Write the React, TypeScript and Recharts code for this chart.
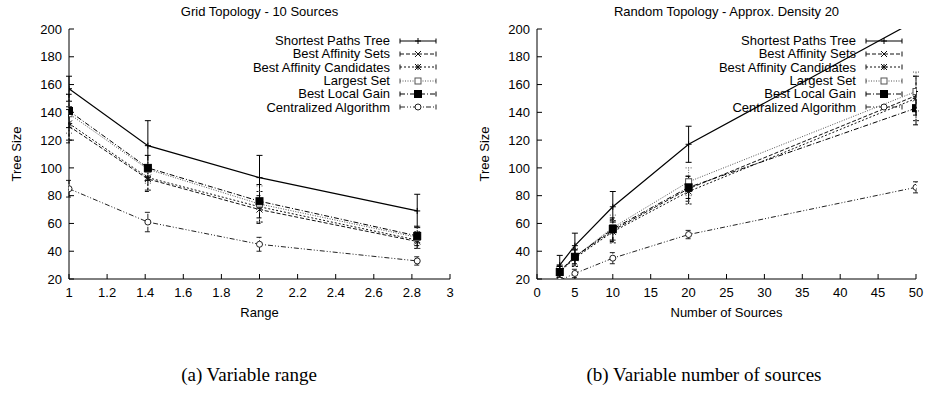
import React from 'react';
import { LineChart, Line, XAxis, YAxis, ErrorBar, Legend } from 'recharts';

// ---- data: (a) grid topology, x = transmission range
const rangeX = [1, 1.414, 2, 2.828];
const gridSpt = [157, 116, 93, 69];
const gridSptErr = [9, 18, 16, 12];
const gridBas = [130, 92, 70, 47];
const gridBasErr = [12, 9, 10, 5];
const gridBac = [132, 93, 72, 48];
const gridBacErr = [12, 9, 11, 6];
const gridLs = [139, 99, 74, 50];
const gridLsErr = [14, 10, 13, 8];
const gridBlg = [141, 100, 76, 51];
const gridBlgErr = [12, 9, 12, 7];
const gridCen = [85, 61, 45, 33];
const gridCenErr = [6, 7, 5, 3];

// ---- data: (b) random topology, x = number of sources
// null error = bar lies outside the plotted range in the original
const sourcesX = [3, 5, 10, 20, 50];
const randSpt = [30, 44, 72, 117, 206];
const randSptErr = [7, 9, 11, 13, null];
const randBas = [26, 36, 55, 85, 152];
const randBasErr = [4, 6, 8, 9, 14];
const randBac = [25, 35, 54, 83, 150];
const randBacErr = [4, 6, 8, 9, 16];
const randLs = [25, 36, 57, 90, 155];
const randLsErr = [4, 6, 9, 10, 14];
const randBlg = [25, 36, 56, 86, 143];
const randBlgErr = [4, 5, 8, 8, 12];
const randCen = [19, 24, 35, 52, 86];
const randCenErr = [null, 3, 4, 3, 4];

const seriesNames = [
  'Shortest Paths Tree',
  'Best Affinity Sets',
  'Best Affinity Candidates',
  'Largest Set',
  'Best Local Gain',
  'Centralized Algorithm',
];

const rangeTicks = [1, 1.2, 1.4, 1.6, 1.8, 2, 2.2, 2.4, 2.6, 2.8, 3];
const sourceTicks = [0, 5, 10, 15, 20, 25, 30, 35, 40, 45, 50];
const sizeTicks = [20, 40, 60, 80, 100, 120, 140, 160, 180, 200];

const FONT = '"Liberation Sans", Arial, Helvetica, sans-serif';

type Marker = 'plus' | 'cross' | 'star' | 'box' | 'fbox' | 'circle';

// line styles, one per series (same order as seriesNames)
const styles: { key: string; dash?: string; marker: Marker; color: string; width: number }[] = [
  { key: 'spt', marker: 'plus', color: '#000', width: 1.2 },
  { key: 'bas', dash: '4 2', marker: 'cross', color: '#111', width: 1 },
  { key: 'bac', dash: '2 2', marker: 'star', color: '#111', width: 1 },
  { key: 'ls', dash: '1 1.5', marker: 'box', color: '#555', width: 1 },
  { key: 'blg', dash: '5 2 1 2', marker: 'fbox', color: '#000', width: 1 },
  { key: 'cen', dash: '5 2 1 2 1 2', marker: 'circle', color: '#222', width: 1 },
];

function buildRows(xs: number[], values: number[][], errs: (number | null)[][]) {
  return xs.map((x, i) => {
    const row: Record<string, number | null> = { x };
    styles.forEach((s, k) => {
      row[s.key] = values[k][i];
      row[s.key + 'Err'] = errs[k][i];
    });
    return row;
  });
}

const gridData = buildRows(
  rangeX,
  [gridSpt, gridBas, gridBac, gridLs, gridBlg, gridCen],
  [gridSptErr, gridBasErr, gridBacErr, gridLsErr, gridBlgErr, gridCenErr]
);
const randData = buildRows(
  sourcesX,
  [randSpt, randBas, randBac, randLs, randBlg, randCen],
  [randSptErr, randBasErr, randBacErr, randLsErr, randBlgErr, randCenErr]
);

function drawMarker(kind: Marker, cx: number, cy: number, color: string, key?: string | number) {
  const r = 3;
  switch (kind) {
    case 'plus':
      return (
        <g key={key}>
          <line x1={cx - r} y1={cy} x2={cx + r} y2={cy} stroke={color} />
          <line x1={cx} y1={cy - r} x2={cx} y2={cy + r} stroke={color} />
        </g>
      );
    case 'cross':
      return (
        <g key={key}>
          <line x1={cx - r} y1={cy - r} x2={cx + r} y2={cy + r} stroke={color} />
          <line x1={cx - r} y1={cy + r} x2={cx + r} y2={cy - r} stroke={color} />
        </g>
      );
    case 'star':
      return (
        <g key={key}>
          <line x1={cx - r} y1={cy} x2={cx + r} y2={cy} stroke={color} />
          <line x1={cx} y1={cy - r} x2={cx} y2={cy + r} stroke={color} />
          <line x1={cx - r} y1={cy - r} x2={cx + r} y2={cy + r} stroke={color} />
          <line x1={cx - r} y1={cy + r} x2={cx + r} y2={cy - r} stroke={color} />
        </g>
      );
    case 'box':
      return <rect key={key} x={cx - r} y={cy - r} width={2 * r} height={2 * r} fill="#fff" stroke={color} />;
    case 'fbox':
      return <rect key={key} x={cx - 3.5} y={cy - 3.5} width={7} height={7} fill="#000" stroke="#000" />;
    default:
      return <circle key={key} cx={cx} cy={cy} r={r} fill="#fff" stroke={color} />;
  }
}

function LegendBox() {
  return (
    <div style={{ fontFamily: FONT, fontSize: 13, color: '#000' }}>
      {seriesNames.map((name, i) => {
        const s = styles[i];
        return (
          <div
            key={name}
            style={{ display: 'flex', alignItems: 'center', justifyContent: 'flex-end', height: 13.3 }}
          >
            <span style={{ whiteSpace: 'nowrap', lineHeight: '13px' }}>{name}</span>
            <svg width={40} height={12} style={{ marginLeft: 8, display: 'block' }}>
              <line x1={2} y1={6} x2={38} y2={6} stroke={s.color} strokeWidth={s.width} strokeDasharray={s.dash} />
              <line x1={2} y1={3.5} x2={2} y2={8.5} stroke={s.color} />
              <line x1={38} y1={3.5} x2={38} y2={8.5} stroke={s.color} />
              {drawMarker(s.marker, 20, 6, s.color)}
            </svg>
          </div>
        );
      })}
    </div>
  );
}

type PanelProps = {
  data: Record<string, number | null>[];
  xDomain: [number, number];
  xTicks: number[];
  yAxisWidth: number;
  rightMargin: number;
  legendRight: number;
};

function Panel({ data, xDomain, xTicks, yAxisWidth, rightMargin, legendRight }: PanelProps) {
  const tickStyle = { fontFamily: FONT, fontSize: 13, fill: '#000' };
  return (
    <LineChart width={464} height={300} data={data} margin={{ top: 29, right: rightMargin, bottom: 0, left: 0 }}>
      <XAxis
        dataKey="x"
        type="number"
        domain={xDomain}
        ticks={xTicks}
        allowDataOverflow
        height={21}
        tickSize={-5}
        tickMargin={14}
        stroke="#000"
        tick={tickStyle}
        interval={0}
      />
      <XAxis
        xAxisId="top"
        orientation="top"
        type="number"
        domain={xDomain}
        ticks={xTicks}
        allowDataOverflow
        height={0}
        tickSize={-5}
        tick={false}
        stroke="#000"
        interval={0}
      />
      <YAxis
        type="number"
        domain={[20, 200]}
        ticks={sizeTicks}
        allowDataOverflow
        width={yAxisWidth}
        tickSize={-5}
        tickMargin={12}
        stroke="#000"
        tick={tickStyle}
        interval={0}
      />
      <YAxis
        yAxisId="right"
        orientation="right"
        type="number"
        domain={[20, 200]}
        ticks={sizeTicks}
        allowDataOverflow
        width={0}
        tickSize={-5}
        tick={false}
        stroke="#000"
        interval={0}
      />
      <Legend
        layout="vertical"
        align="center"
        verticalAlign="middle"
        content={() => <LegendBox />}
        wrapperStyle={{ top: 34, right: legendRight, left: 'auto', width: 'auto', height: 'auto' }}
      />
      {styles.map((s, i) => (
        <Line
          key={s.key}
          dataKey={s.key}
          name={seriesNames[i]}
          type="linear"
          stroke={s.color}
          strokeWidth={s.width}
          strokeDasharray={s.dash}
          isAnimationActive={false}
          dot={(p: any) => drawMarker(s.marker, p.cx, p.cy, s.color, `${s.key}-${p.index}`)}
          activeDot={false}
        >
          <ErrorBar
            dataKey={s.key + 'Err'}
            direction="y"
            width={3}
            stroke={s.color}
            strokeWidth={1}
            strokeDasharray={s.dash}
            isAnimationActive={false}
          />
        </Line>
      ))}
    </LineChart>
  );
}

const textBase: React.CSSProperties = {
  position: 'absolute',
  fontFamily: FONT,
  fontSize: 13,
  color: '#000',
  whiteSpace: 'nowrap',
  transform: 'translate(-50%, -50%)',
  lineHeight: 1,
};

export default function App() {
  return (
    <div style={{ position: 'absolute', left: 0, top: 0, width: 928, height: 393, background: '#fff', overflow: 'hidden' }}>
      <div style={{ position: 'absolute', left: 0, top: 0 }}>
        <Panel data={gridData} xDomain={[1, 3]} xTicks={rangeTicks} yAxisWidth={69} rightMargin={14} legendRight={26} />
      </div>
      <div style={{ position: 'absolute', left: 464, top: 0 }}>
        <Panel data={randData} xDomain={[0, 50]} xTicks={sourceTicks} yAxisWidth={73} rightMargin={12} legendRight={24} />
      </div>

      <div style={{ ...textBase, left: 259.5, top: 11 }}>Grid Topology - 10 Sources</div>
      <div style={{ ...textBase, left: 726.5, top: 11 }}>Random Topology - Approx. Density 20</div>

      <div style={{ ...textBase, left: 16, top: 154, transform: 'translate(-50%, -50%) rotate(-90deg)' }}>Tree Size</div>
      <div style={{ ...textBase, left: 484, top: 154, transform: 'translate(-50%, -50%) rotate(-90deg)' }}>Tree Size</div>

      <div style={{ ...textBase, left: 259.5, top: 312 }}>Range</div>
      <div style={{ ...textBase, left: 726.5, top: 312 }}>Number of Sources</div>

      <div style={{ ...textBase, fontFamily: '"Liberation Serif", "Times New Roman", serif', fontSize: 19, left: 249, top: 374 }}>
        (a) Variable range
      </div>
      <div style={{ ...textBase, fontFamily: '"Liberation Serif", "Times New Roman", serif', fontSize: 19, left: 704, top: 374 }}>
        (b) Variable number of sources
      </div>
    </div>
  );
}
